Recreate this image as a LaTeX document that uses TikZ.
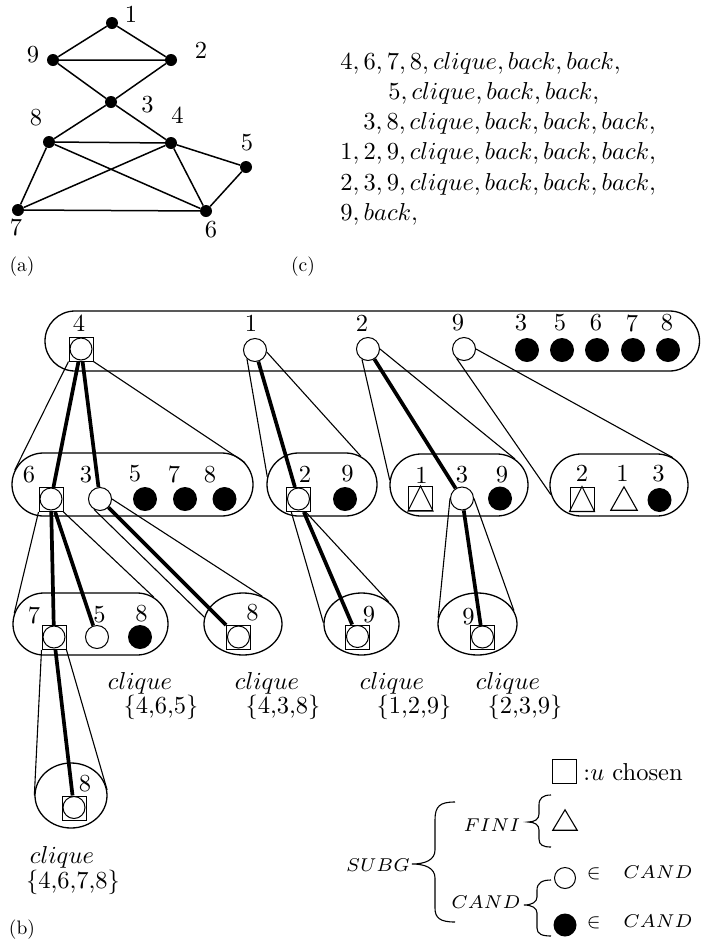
\documentclass[tikz,border=0pt]{standalone}
\usetikzlibrary{shapes.misc,shapes.geometric}
\begin{document}
\begin{tikzpicture}[x=1pt,y=-1pt,
  txt/.style={inner sep=0pt, scale=2.45},
  stxt/.style={inner sep=0pt, scale=2.65},
  lab/.style={inner sep=0pt, scale=1.95},
  gdot/.style={circle, fill=black, minimum size=12pt, inner sep=0pt},
  gedge/.style={line width=1.5pt},
  stad/.style={rounded rectangle, draw, line width=1.3pt, inner sep=0pt},
  oval/.style={ellipse, draw, line width=1.3pt, inner sep=0pt},
  sqn/.style={draw, line width=1pt, minimum size=24pt, inner sep=0pt, fill=white},
  cin/.style={circle, draw, line width=1pt, minimum size=23pt, inner sep=0pt, fill=white},
  fcn/.style={circle, fill=black, minimum size=24pt, inner sep=0pt},
  trin/.style={minimum width=26pt, minimum height=23pt, inner sep=0pt},
  tridraw/.style={line width=1.1pt},
  cone/.style={line width=1.1pt},
  pick/.style={line width=3.7pt},
  brc/.style={line width=1.1pt},
]
\useasboundingbox (0,0) rectangle (701,943);

% ---------------- (a) graph
\node[gdot] (v1) at (112,23) {};
\node[gdot] (v9) at (53,60) {};
\node[gdot] (v2) at (171,60) {};
\node[gdot] (v3) at (111,102) {};
\node[gdot] (v8) at (49,142) {};
\node[gdot] (v4) at (171,143) {};
\node[gdot] (v5) at (246,167) {};
\node[gdot] (v7) at (18,210) {};
\node[gdot] (v6) at (206,211) {};
\draw[gedge] (v1)--(v9) (v1)--(v2) (v9)--(v2) (v9)--(v3) (v2)--(v3)
  (v3)--(v8) (v3)--(v4) (v8)--(v4) (v8)--(v7) (v8)--(v6) (v4)--(v7)
  (v4)--(v6) (v4)--(v5) (v5)--(v6) (v7)--(v6);
\node[txt] (lv1) at (131,14.5) {1};
\node[txt] (lv9) at (33,55) {9};
\node[txt] (lv2) at (201,50) {2};
\node[txt] (lv3) at (147.5,104.5) {3};
\node[txt] (lv8) at (36,117.5) {8};
\node[txt] (lv4) at (177.5,115.5) {4};
\node[txt] (lv5) at (247,142.5) {5};
\node[txt] (lv7) at (16,227.5) {7};
\node[txt] (lv6) at (211,229.5) {6};
\node[lab] (capa) at (22,267) {(a)};

% ---------------- (c) sequence
\node[txt, anchor=base west] (r1) at (340,69) {$4, 6, 7, 8, clique, back, back,$};
\node[txt, anchor=base west] (r2) at (388,99) {$5, clique, back, back,$};
\node[txt, anchor=base west] (r3) at (363,129.5) {$3, 8, clique, back, back, back,$};
\node[txt, anchor=base west] (r4) at (340,159.5) {$1, 2, 9, clique, back, back, back,$};
\node[txt, anchor=base west] (r5) at (340,190) {$2, 3, 9, clique, back, back, back,$};
\node[txt, anchor=base west] (r6) at (340,220) {$9, back,$};
\node[lab] (capc) at (303,267) {(c)};

% ---------------- (b) containers
\node[stad, minimum width=654.5pt, minimum height=60pt] (T) at (372.25,341) {};
\node[stad, minimum width=241pt, minimum height=63pt] (A) at (132.5,484.5) {};
\node[stad, minimum width=110pt, minimum height=63pt] (B) at (322,484.5) {};
\node[stad, minimum width=138pt, minimum height=62pt] (C) at (459,485) {};
\node[stad, minimum width=138pt, minimum height=62pt] (D) at (619,485) {};
\node[stad, minimum width=155pt, minimum height=62pt] (E) at (90.5,624) {};
\node[oval, minimum width=78pt, minimum height=62pt] (F) at (243,624) {};
\node[oval, minimum width=75pt, minimum height=62pt] (G) at (361.5,624) {};
\node[oval, minimum width=79pt, minimum height=62pt] (H) at (477.5,624) {};
\node[oval, minimum width=72pt, minimum height=65pt] (I) at (71,795.5) {};

% ---------------- top row
\node[sqn] (t4) at (81,349) {}; \node[cin, minimum size=22pt] (t4c) at (81,349) {};
\node[cin] (t1) at (255,350) {};
\node[cin] (t2) at (368,349) {};
\node[cin] (t9) at (464,349) {};
\node[fcn] (t3) at (527,350) {};
\node[fcn] (t5) at (562,350) {};
\node[fcn] (t6) at (597,350) {};
\node[fcn] (t7) at (633,350) {};
\node[fcn] (t8) at (668,350) {};
\node[txt] (lt4) at (79,323) {4};
\node[txt] (lt1) at (251,323) {1};
\node[txt] (lt2) at (362,323) {2};
\node[txt] (lt9) at (458,323) {9};
\node[txt] (lt3) at (521,323) {3};
\node[txt] (lt5) at (560,323) {5};
\node[txt] (lt6) at (596,323) {6};
\node[txt] (lt7) at (632,323) {7};
\node[txt] (lt8) at (667,323) {8};

% ---------------- row 2
\node[sqn] (a6) at (51,499.5) {}; \node[cin, minimum size=22pt] (a6c) at (51,499) {};
\node[cin] (a3) at (100,499) {};
\node[fcn] (a5) at (145,499) {};
\node[fcn] (a7) at (185,499) {};
\node[fcn] (a8) at (224.5,499) {};
\node[txt] (la6) at (29,475) {6};
\node[txt] (la3) at (86,475) {3};
\node[txt] (la5) at (135,474) {5};
\node[txt] (la7) at (174,474) {7};
\node[txt] (la8) at (210,475) {8};

\node[sqn] (b2) at (298.5,499.5) {}; \node[cin, minimum size=22pt] (b2c) at (298.5,499) {};
\node[fcn] (b9) at (345,499) {};
\node[txt] (lb2) at (305,474) {2};
\node[txt] (lb9) at (347.5,474) {9};

\node[sqn] (c1) at (420.5,498.5) {};
\draw[tridraw] (c1.south west) -- (c1.north) -- (c1.south east) -- cycle;
\node[cin] (c3) at (462,498.5) {};
\node[fcn] (c9) at (500,498.5) {};
\node[txt] (lc1) at (421.5,475) {1};
\node[txt] (lc3) at (462,475) {3};
\node[txt] (lc9) at (502,475) {9};

\node[sqn] (d2) at (582,499) {};
\draw[tridraw] (d2.south west) -- (d2.north) -- (d2.south east) -- cycle;
\node[trin] (d1) at (624,498.5) {};
\draw[tridraw] (d1.south west) -- (d1.north) -- (d1.south east) -- cycle;
\node[fcn] (d3) at (659.5,500) {};
\node[txt] (ld2) at (582,473.5) {2};
\node[txt] (ld1) at (622.5,473.5) {1};
\node[txt] (ld3) at (658.5,473.5) {3};

% ---------------- row 3
\node[sqn] (e7) at (54,637.5) {}; \node[cin, minimum size=22pt] (e7c) at (54,637) {};
\node[cin] (e5) at (97,637) {};
\node[fcn] (e8) at (140,637) {};
\node[txt] (le7) at (34,615.5) {7};
\node[txt] (le5) at (99.5,615) {5};
\node[txt] (le8) at (141.5,613.5) {8};

\node[sqn] (f8) at (238.5,637.5) {}; \node[cin, minimum size=22pt] (f8c) at (238.5,637) {};
\node[txt] (lf8) at (252.5,612.5) {8};
\node[sqn] (g9) at (357.5,637) {}; \node[cin, minimum size=22pt] (g9c) at (357.5,636.5) {};
\node[txt] (lg9) at (369,615) {9};
\node[sqn] (h9) at (482.5,637.5) {}; \node[cin, minimum size=22pt] (h9c) at (482.5,637) {};
\node[txt] (lh9) at (468.5,617) {9};

% ---------------- row 4
\node[sqn] (i8) at (74,808) {}; \node[cin, minimum size=22pt] (i8c) at (74,807.5) {};
\node[txt] (li8) at (85,783.5) {8};

% ---------------- connectors
\draw[cone] (t4.south west) -- (A.173);
\draw[cone] (t4.south east) -- (A.11);
\draw[pick] (t4) -- (a6);
\draw[pick] (t4) -- (a3);

\draw[cone] (t1.228) -- (B.172);
\draw[cone] (t1.-10) -- (B.36);
\draw[pick] (t1) -- (b2);

\draw[cone] (t2.240) -- (C.176);
\draw[cone] (t2.0) -- (C.25);
\draw[pick] (t2) -- (c3);

\draw[cone] (t9.232) -- (D.188);
\draw[cone] (t9.0) -- (D.27);

\draw[cone] (a6.south west) -- (E.172);
\draw[cone] (a6.south east) -- (E.23);
\draw[pick] (a6) -- (e7);
\draw[pick] (a6) -- (e5);

\draw[cone] (a3.240) -- (F.170);
\draw[cone] (a3.0) -- (F.55);
\draw[pick] (a3) -- (f8);

\draw[cone] (b2.-120) -- (G.178);
\draw[cone] (b2.-60) -- (G.39);
\draw[pick] (b2) -- (g9);

\draw[cone] (c3.180) -- (H.171);
\draw[cone] (c3.0) -- (H.20);
\draw[pick] (c3) -- (h9);

\draw[cone] (e7.south west) -- (I.180);
\draw[cone] (e7.south east) -- (I.9);
\draw[pick] (e7) -- (i8);

% ---------------- clique labels
\node[txt] (q1) at (140,683) {$clique$};
\node[txt] (s1) at (161,707.5) {\{4,6,5\}};
\node[txt] (q2) at (267,683) {$clique$};
\node[txt] (s2) at (283,707.5) {\{4,3,8\}};
\node[txt] (q3) at (392,683) {$clique$};
\node[txt] (s3) at (414,707.5) {\{1,2,9\}};
\node[txt] (q4) at (508,683) {$clique$};
\node[txt] (s4) at (525,707.5) {\{2,3,9\}};
\node[txt] (q5) at (62,857) {$clique$};
\node[txt] (s5) at (73,882) {\{4,6,7,8\}};
\node[lab] (capb) at (22,930) {(b)};

% ---------------- legend
\node[sqn] (lsq) at (564,771) {};
\node[txt, anchor=west] (lchosen) at (583,772) {:$u$ chosen};
\node[trin, minimum width=24pt, minimum height=20pt] (ltri) at (565,820) {};
\draw[tridraw] (ltri.south west) -- (ltri.north) -- (ltri.south east) -- cycle;
\node[cin, minimum size=21pt] (lc) at (565,878) {};
\node[fcn, minimum size=23pt] (lf) at (565,925) {};
\node[stxt] (lfini) at (492,825) {$\scriptstyle FINI$};
\node[stxt] (lsubg) at (378,865) {$\scriptstyle SUBG$};
\node[stxt] (lcand) at (486,902) {$\scriptstyle CAND$};
\node[stxt, anchor=west] (lin1) at (586,873) {$\scriptstyle\in$\hspace{8.5pt}$\scriptstyle CAND$};
\node[stxt, anchor=west] (lin2) at (586,922) {$\scriptstyle\in$\hspace{8.5pt}$\scriptstyle CAND$};
\draw[brc] (455,802) .. controls (440,802) and (435,806) .. (435,820) -- (435,850)
  .. controls (435,860) and (425,864) .. (412,864) .. controls (425,864) and (435,868) .. (435,878)
  -- (435,908) .. controls (435,918) and (440,922) .. (455,922);
\draw[brc] (551,795) .. controls (543,795) and (539,798) .. (539,805) -- (539,814)
  .. controls (539,819) and (535,822) .. (528,822) .. controls (535,822) and (539,825) .. (539,830)
  -- (539,839) .. controls (539,845) and (543,847) .. (551,847);
\draw[brc] (551,880) .. controls (542,880) and (537,883) .. (537,890) -- (537,897)
  .. controls (537,902) and (532,905) .. (524,905) .. controls (532,905) and (537,908) .. (537,913)
  -- (537,928) .. controls (537,934) and (542,936) .. (551,936);
\end{tikzpicture}
\end{document}
